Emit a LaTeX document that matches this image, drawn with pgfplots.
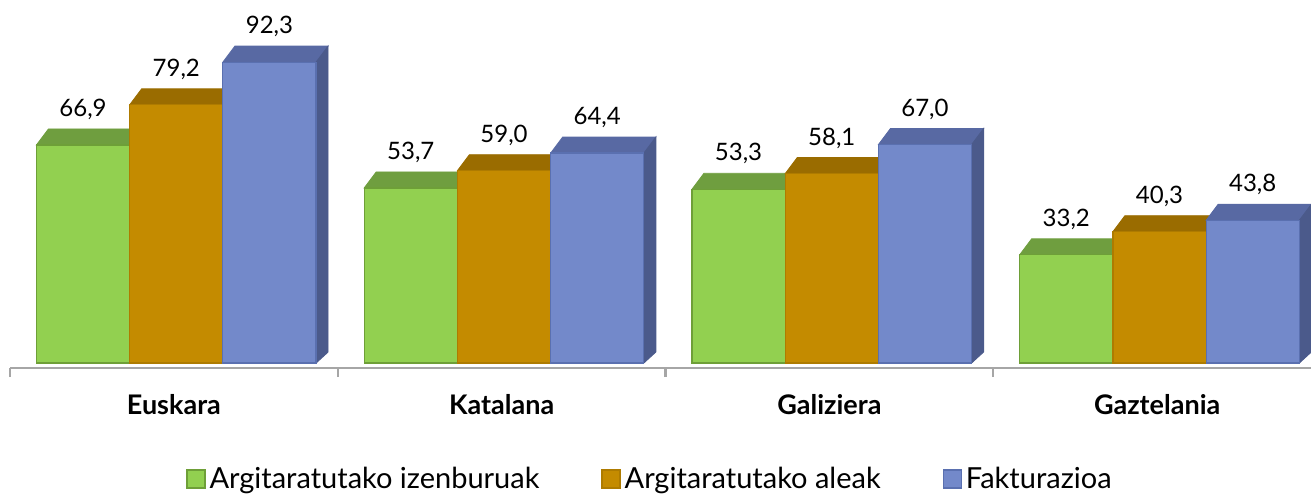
\documentclass[border=0pt]{standalone}
\usepackage{fontspec}
\setmainfont{Lato}
\usepackage{pgfplots}
\pgfplotsset{compat=1.18}

\definecolor{frontG}{HTML}{92D050}
\definecolor{edgeG}{HTML}{6E9F38}
\definecolor{topG}{HTML}{6F9E3F}
\definecolor{sideG}{HTML}{5E8A30}
\definecolor{frontO}{HTML}{C48B00}
\definecolor{edgeO}{HTML}{AE7B00}
\definecolor{topO}{HTML}{9A6C00}
\definecolor{sideO}{HTML}{86600A}
\definecolor{frontB}{HTML}{7389CA}
\definecolor{edgeB}{HTML}{5A70B0}
\definecolor{topB}{HTML}{5869A3}
\definecolor{sideB}{HTML}{4B5A8B}
\definecolor{axisgray}{HTML}{A6A6A6}

\pgfdeclareplotmark{nothing}{}

% top and side faces of the 3D bars, drawn at each data point
\pgfplotsset{
  faces/.style n args={3}{
    scatter, only marks, mark=nothing, forget plot,
    visualization depends on={rawy \as \rawy},
    scatter/@pre marker code/.code={
      \pgfmathsetmacro\hh{\rawy*1.63}
      \fill[#2] ({#1pt-23.3pt},0pt) -- ({#1pt+23.3pt},0pt) -- ({#1pt+29.3pt},8pt) -- ({#1pt-17.3pt},8pt) -- cycle;
      \fill[#3] ({#1pt+23.3pt},0pt) -- ({#1pt+29.3pt},8pt) -- ({#1pt+29.3pt},{-\hh pt+5.5pt}) -- ({#1pt+23.3pt},{-\hh pt}) -- cycle;
    },
    scatter/@post marker code/.code={},
  },
  front/.style n args={3}{
    ybar, bar width=46.6pt, bar shift=#1pt,
    fill=#2, draw=#3, line width=0.6pt,
    nodes near coords={\pgfmathprintnumber[fixed,fixed zerofill,precision=1,use comma,assume math mode=true]{\pgfplotspointmeta}},
    every node near coord/.append style={xshift=#1pt},
  },
}

\begin{document}
\begin{tikzpicture}
\begin{axis}[
    x=163.85pt, y=1.63pt,
    xmin=-0.5, xmax=3.4695,
    ymin=-1.534, ymax=111.35,
    axis x line*=bottom, axis y line=none,
    axis line style={draw=axisgray, line width=1.2pt},
    xtick={0,1,2,3},
    xticklabels={Euskara,Katalana,Galiziera,Gaztelania},
    xtick style={draw=none},
    major tick length=4.5pt,
    tick align=outside,
    extra x ticks={-0.5,0.5,1.5,2.5},
    extra x tick labels={},
    extra x tick style={xtick style={draw=axisgray, line width=1.2pt}},
    xticklabel style={font=\fontsize{13.5}{15}\selectfont\bfseries, yshift=-5pt},
    ytick=\empty,
    every node near coord/.append style={font=\fontsize{12}{14}\selectfont, yshift=9pt},
    legend columns=3,
    legend style={at={(0.4927,-0.3016)}, anchor=center, draw=none,
      font=\fontsize{14.5}{16}\selectfont,
      /tikz/every even column/.append style={column sep=29pt}},
    legend image code/.code={\draw[#1] (0pt,-4.5pt) rectangle (9pt,4.5pt);},
    clip=false,
    clip marker paths=true,
]
\addplot[faces={-45.4}{topG}{sideG}] coordinates {(0,66.9) (1,53.7) (2,53.3) (3,33.2)};
\addplot[front={-45.4}{frontG}{edgeG}] coordinates {(0,66.9) (1,53.7) (2,53.3) (3,33.2)};
\addlegendentry{Argitaratutako izenburuak}
\addplot[faces={1.2}{topO}{sideO}] coordinates {(0,79.2) (1,59.0) (2,58.1) (3,40.3)};
\addplot[front={1.2}{frontO}{edgeO}] coordinates {(0,79.2) (1,59.0) (2,58.1) (3,40.3)};
\addlegendentry{Argitaratutako aleak}
\addplot[faces={47.8}{topB}{sideB}] coordinates {(0,92.3) (1,64.4) (2,67.0) (3,43.8)};
\addplot[front={47.8}{frontB}{edgeB}] coordinates {(0,92.3) (1,64.4) (2,67.0) (3,43.8)};
\addlegendentry{Fakturazioa}
\end{axis}
\pgfresetboundingbox
\path ([xshift=-5pt]current axis.north west) rectangle ([yshift=-62.5pt]current axis.south east);
\end{tikzpicture}
\end{document}
